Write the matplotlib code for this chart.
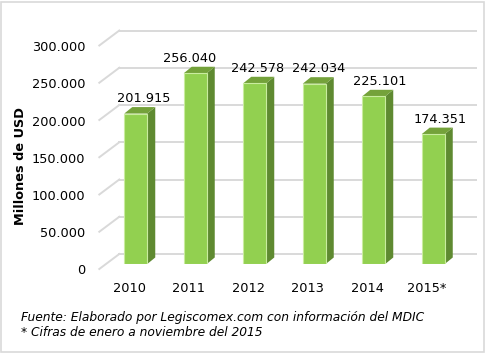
import matplotlib
matplotlib.use("Agg")
import matplotlib.pyplot as plt
from matplotlib.patches import Polygon, Rectangle

# data
years = ["2010", "2011", "2012", "2013", "2014", "2015*"]
values = [201915, 256040, 242578, 242034, 225101, 174351]
value_labels = ["201.915", "256.040", "242.578", "242.034", "225.101", "174.351"]
y_ticks = [0, 50000, 100000, 150000, 200000, 250000, 300000]
y_tick_labels = ["0", "50.000", "100.000", "150.000", "200.000", "250.000", "300.000"]

# horizontal nudge of the value labels (pixels), as placed in the original
label_nudge = [8, -6, 3, 4, 5.5, 6.5]

FRONT = "#92d050"
TOP = "#74a23a"
SIDE = "#5f8a31"
GRID = "#d9d9d9"

W, H = 486, 353
fig = plt.figure(figsize=(W / 100, H / 100), dpi=100)

# axes = plane where the bars stand
ax = fig.add_axes([106 / W, 89 / H, 357 / W, 223.5 / H])
ax.set_xlim(-0.5, 5.5)
ax.set_ylim(0, 300000)
ax.axis("off")

# pixel -> data unit helpers
sx = 357 / 6.0
sy = 223.5 / 300000.0
def px(d):
    return d / sx
def py(d):
    return d / sy

# depth offsets (pixels): back wall, front edge, bar depth
back_dx, back_dy = 13.3, 10
front_dx, front_dy = -6.7, -5
bar_dx, bar_dy = 8, 6.5
bw = 23 / sx

# gridlines: side diagonals + back wall lines
for v in y_ticks:
    x0 = -0.5
    ax.plot([x0 + px(front_dx), x0 + px(back_dx)],
            [v + py(front_dy), v + py(back_dy)],
            color=GRID, lw=1.4, clip_on=False, zorder=1)
    ax.plot([-0.5 + px(back_dx), 5.5 + px(back_dx)],
            [v + py(back_dy), v + py(back_dy)],
            color=GRID, lw=1.4, clip_on=False, zorder=1)

# tick labels at the front edge
for v, lab in zip(y_ticks, y_tick_labels):
    ax.text(-0.5 + px(front_dx) - px(14), v + py(front_dy - 2), lab,
            ha="right", va="center", fontsize=9.3, color="#000000")

xs = list(range(len(years)))

# bars: front faces through the axes, side and top faces as polygons
ax.bar(xs, values, width=bw, color=FRONT, edgecolor="#c9ec9f",
       linewidth=0.8, zorder=3)
for x, v in zip(xs, values):
    r = x + bw / 2
    l = x - bw / 2
    side = Polygon([(r, 0), (r + px(bar_dx), py(bar_dy)),
                    (r + px(bar_dx), v + py(bar_dy)), (r, v)],
                   closed=True, facecolor=SIDE, edgecolor="none", zorder=2.9)
    top = Polygon([(l, v), (r, v), (r + px(bar_dx), v + py(bar_dy)),
                   (l + px(bar_dx), v + py(bar_dy))],
                  closed=True, facecolor=TOP, edgecolor="none", zorder=2.9)
    ax.add_patch(side)
    ax.add_patch(top)

# value labels
for x, v, lab, n in zip(xs, values, value_labels, label_nudge):
    ax.text(x + px(n), v + py(bar_dy + 2), lab, ha="center", va="bottom",
            fontsize=9.3, color="#000000")

# category labels at the front edge
for x, lab in zip(xs, years):
    ax.text(x + px(front_dx), py(front_dy - 20), lab, ha="center",
            va="center", fontsize=9.3, color="#000000")

fig.text(21 / W, 1 - 166 / H, "Millones de USD", rotation=90, ha="center",
         va="center", fontsize=9.3, fontweight="bold")

fig.text(21 / W, 1 - 317 / H,
         "Fuente: Elaborado por Legiscomex.com con información del MDIC",
         ha="left", va="center", fontsize=8.8, style="italic")
fig.text(21 / W, 1 - 332 / H, "* Cifras de enero a noviembre del 2015",
         ha="left", va="center", fontsize=8.8, style="italic")

fig.patches.append(Rectangle((1 / W, 1 / H), 1 - 3 / W, 1 - 3 / H,
                             transform=fig.transFigure, fill=False,
                             edgecolor=GRID, linewidth=1.2))

fig.savefig("out.png", dpi=100)
